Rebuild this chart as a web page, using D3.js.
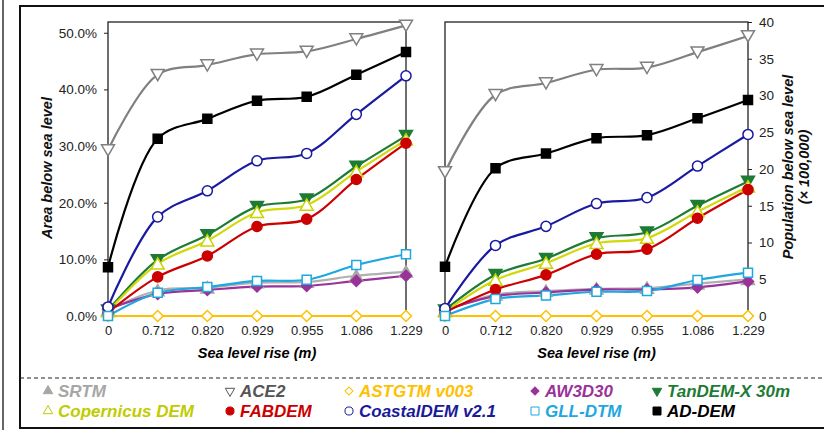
<!DOCTYPE html>
<html>
<head>
<meta charset="utf-8">
<script src="https://cdn.jsdelivr.net/npm/d3@7"></script>
<style>
  body { margin: 0; background: #fff; }
  svg { font-family: "Liberation Sans", Arial, sans-serif; }
</style>
</head>
<body>
<div id="chart"></div>
<script>
////////////////data//////////////////
var rises = ["0", "0.712", "0.820", "0.929", "0.955", "1.086", "1.229"];
var areaTicks = [0, 0.1, 0.2, 0.3, 0.4, 0.5];
var popTicks = [0, 5, 10, 15, 20, 25, 30, 35, 40];

var demNames = ["SRTM", "ACE2", "ASTGTM v003", "AW3D30", "TanDEM-X 30m",
                "Copernicus DEM", "FABDEM", "CoastalDEM v2.1", "GLL-DTM", "AD-DEM"];

// area below sea level (fraction)
var areaSRTM       = [0.010, 0.045, 0.050, 0.059, 0.060, 0.071, 0.078];
var areaACE2       = [0.293, 0.426, 0.443, 0.462, 0.467, 0.489, 0.513];
var areaASTGTM     = [0, 0, 0, 0, 0, 0, 0];
var areaAW3D30     = [0.012, 0.039, 0.046, 0.052, 0.053, 0.062, 0.071];
var areaTanDEM     = [0.010, 0.099, 0.143, 0.193, 0.206, 0.264, 0.318];
var areaCopernicus = [0.008, 0.092, 0.133, 0.183, 0.196, 0.255, 0.311];
var areaFABDEM     = [0.006, 0.069, 0.106, 0.158, 0.171, 0.241, 0.305];
var areaCoastal    = [0.016, 0.175, 0.221, 0.274, 0.287, 0.356, 0.424];
var areaGLL        = [0.000, 0.041, 0.051, 0.062, 0.064, 0.090, 0.109];
var areaADDEM      = [0.086, 0.313, 0.348, 0.380, 0.387, 0.426, 0.466];

// population below sea level (x 100,000)
var popSRTM       = [0.7, 2.9, 3.4, 3.7, 3.8, 4.4, 5.0];
var popACE2       = [19.6, 30.1, 31.7, 33.5, 33.8, 35.9, 38.1];
var popASTGTM     = [0, 0, 0, 0, 0, 0, 0];
var popAW3D30     = [0.8, 2.7, 3.2, 3.6, 3.6, 3.9, 4.7];
var popTanDEM     = [0.8, 5.6, 7.8, 10.6, 11.4, 15.0, 18.3];
var popCopernicus = [0.6, 4.9, 7.2, 9.9, 10.6, 14.2, 17.6];
var popFABDEM     = [0.5, 3.6, 5.6, 8.4, 9.1, 13.3, 17.2];
var popCoastal    = [1.0, 9.6, 12.2, 15.3, 16.1, 20.4, 24.7];
var popGLL        = [0.0, 2.3, 2.8, 3.3, 3.4, 4.9, 5.9];
var popADDEM      = [6.7, 20.1, 22.1, 24.2, 24.6, 26.9, 29.4];

var areaData = [areaSRTM, areaACE2, areaASTGTM, areaAW3D30, areaTanDEM,
                areaCopernicus, areaFABDEM, areaCoastal, areaGLL, areaADDEM];
var popData = [popSRTM, popACE2, popASTGTM, popAW3D30, popTanDEM,
               popCopernicus, popFABDEM, popCoastal, popGLL, popADDEM];

////////////////styles//////////////////
// line colour, marker shape, marker fill, text colour
var styles = [
  {line: "#b0b0b0", shape: "tri",  fill: "#a6a6a6", stroke: "#a6a6a6", text: "#a6a6a6"},
  {line: "#808080", shape: "dtri", fill: "#ffffff", stroke: "#808080", text: "#555555"},
  {line: "#ffc000", shape: "dia",  fill: "#ffffff", stroke: "#ffc000", text: "#ffc000"},
  {line: "#993399", shape: "dia",  fill: "#993399", stroke: "#993399", text: "#993399"},
  {line: "#1e7b34", shape: "dtri", fill: "#1e7b34", stroke: "#1e7b34", text: "#1e7b34"},
  {line: "#d2d90a", shape: "tri",  fill: "#ffffff", stroke: "#c8d400", text: "#c0cc00"},
  {line: "#cc0000", shape: "circ", fill: "#cc0000", stroke: "#cc0000", text: "#cc0000"},
  {line: "#1a1aa0", shape: "circ", fill: "#ffffff", stroke: "#1a1aa0", text: "#1a1a99"},
  {line: "#1ea7e0", shape: "sq",   fill: "#ffffff", stroke: "#1ea7e0", text: "#1ea7e0"},
  {line: "#000000", shape: "sq",   fill: "#000000", stroke: "#000000", text: "#000000"}
];

var W = 824, H = 430;
var svg = d3.select("#chart").append("svg")
    .attr("width", W).attr("height", H);

// frames
svg.append("line").attr("x1", 3).attr("x2", 3).attr("y1", 0).attr("y2", H)
    .attr("stroke", "#333").attr("stroke-width", 1.5);
svg.append("rect").attr("x", 20).attr("y", 6).attr("width", 830).attr("height", 422)
    .attr("fill", "none").attr("stroke", "#111").attr("stroke-width", 2);

function symbolPath(shape, s) {
  if (shape === "circ") return d3.symbol(d3.symbolCircle, s * s * 0.8)();
  if (shape === "sq") return d3.symbol(d3.symbolSquare, s * s)();
  if (shape === "dia") return d3.symbol(d3.symbolSquare, s * s * 0.5)();
  return d3.symbol(d3.symbolTriangle, s * s * 0.6)();
}
function symbolRot(shape) {
  if (shape === "dia") return 45;
  if (shape === "dtri") return 180;
  return 0;
}

var plotTop = 22, plotBottom = 316;

function panel(x0, x1, yScale, data, rightAxis, tickVals, tickFmt) {
  var x = d3.scalePoint().domain(rises).range([x0, x1]);
  var g = svg.append("g");

  // box
  g.append("rect").attr("x", x0).attr("y", plotTop)
      .attr("width", x1 - x0).attr("height", plotBottom - plotTop)
      .attr("fill", "none").attr("stroke", "#222").attr("stroke-width", 1.3);

  // y axis
  var ax = rightAxis ? d3.axisRight(yScale) : d3.axisLeft(yScale);
  ax.tickValues(tickVals).tickFormat(tickFmt).tickSize(4).tickPadding(7);
  var ya = g.append("g")
      .attr("transform", "translate(" + (rightAxis ? x1 : x0) + ",0)")
      .call(ax);
  ya.select(".domain").remove();
  ya.selectAll("line").attr("stroke", "#222");
  ya.selectAll("text").attr("font-size", "13.5px").attr("fill", "#222");

  // x axis
  var xa = g.append("g").attr("transform", "translate(0," + plotBottom + ")")
      .call(d3.axisBottom(x).tickSize(0).tickPadding(10));
  xa.select(".domain").remove();
  xa.selectAll("text").attr("font-size", "13px").attr("fill", "#222");

  g.append("text")
      .attr("x", (x0 + x1) / 2).attr("y", 358)
      .attr("text-anchor", "middle")
      .attr("font-size", "14.5px").attr("font-weight", "bold").attr("font-style", "italic")
      .text("Sea level rise (m)");

  var line = d3.line()
      .x(function(d, i) { return x(rises[i]); })
      .y(function(d) { return yScale(d); })
      .curve(d3.curveCatmullRom.alpha(0.5));

  data.forEach(function(vals, k) {
    var st = styles[k];
    g.append("path").datum(vals)
        .attr("d", line)
        .attr("fill", "none")
        .attr("stroke", st.line)
        .attr("stroke-width", 2.2);
  });
  data.forEach(function(vals, k) {
    var st = styles[k];
    var sz = st.shape === "sq" ? 9 : (st.shape === "circ" ? 10 : 11);
    g.selectAll(null).data(vals).enter().append("path")
        .attr("d", symbolPath(st.shape, sz))
        .attr("transform", function(d, i) {
          var dy = st.shape === "tri" ? 1.5 : (st.shape === "dtri" ? -1.5 : 0);
          return "translate(" + x(rises[i]) + "," + (yScale(d) + dy) + ") rotate(" + symbolRot(st.shape) + ")";
        })
        .attr("fill", st.fill)
        .attr("stroke", st.stroke)
        .attr("stroke-width", 1.5);
  });
}

var yArea = d3.scaleLinear().domain([0, 0.519]).range([plotBottom, plotTop]);
var yPop = d3.scaleLinear().domain([0, 40]).range([plotBottom, plotTop]);

panel(108, 406, yArea, areaData, false, areaTicks, d3.format(".1%"));
panel(445, 748, yPop, popData, true, popTicks, d3.format("d"));

// axis titles
svg.append("text")
    .attr("transform", "translate(52,168) rotate(-90)")
    .attr("text-anchor", "middle")
    .attr("font-size", "14.5px").attr("font-weight", "bold").attr("font-style", "italic")
    .attr("fill", "#111")
    .text("Area below sea level");
svg.append("text")
    .attr("transform", "translate(793,167) rotate(-90)")
    .attr("text-anchor", "middle")
    .attr("font-size", "14.5px").attr("font-weight", "bold").attr("font-style", "italic")
    .attr("fill", "#111")
    .text("Population below sea level");
svg.append("text")
    .attr("transform", "translate(809,167) rotate(-90)")
    .attr("text-anchor", "middle")
    .attr("font-size", "14.5px").attr("font-weight", "bold").attr("font-style", "italic")
    .attr("fill", "#111")
    .text("(× 100,000)");

// legend
svg.append("line").attr("x1", 20).attr("x2", W).attr("y1", 378).attr("y2", 378)
    .attr("stroke", "#222").attr("stroke-width", 1.2).attr("stroke-dasharray", "4,3");

var legX = [48, 230, 349, 535, 657];
var legY = [391, 411];
demNames.forEach(function(name, k) {
  var st = styles[k];
  var col = k % 5, row = Math.floor(k / 5);
  var cx = legX[col], cy = legY[row];
  svg.append("path")
      .attr("d", symbolPath(st.shape, 8))
      .attr("transform", "translate(" + cx + "," + cy + ") rotate(" + symbolRot(st.shape) + ")")
      .attr("fill", st.fill === "#ffffff" ? "#ffffff" : st.text)
      .attr("stroke", st.text)
      .attr("stroke-width", 1);
  svg.append("text")
      .attr("x", cx + 10).attr("y", cy + 6)
      .attr("font-size", "17px").attr("font-weight", "bold").attr("font-style", "italic")
      .attr("fill", st.text)
      .text(name);
});
</script>
</body>
</html>
